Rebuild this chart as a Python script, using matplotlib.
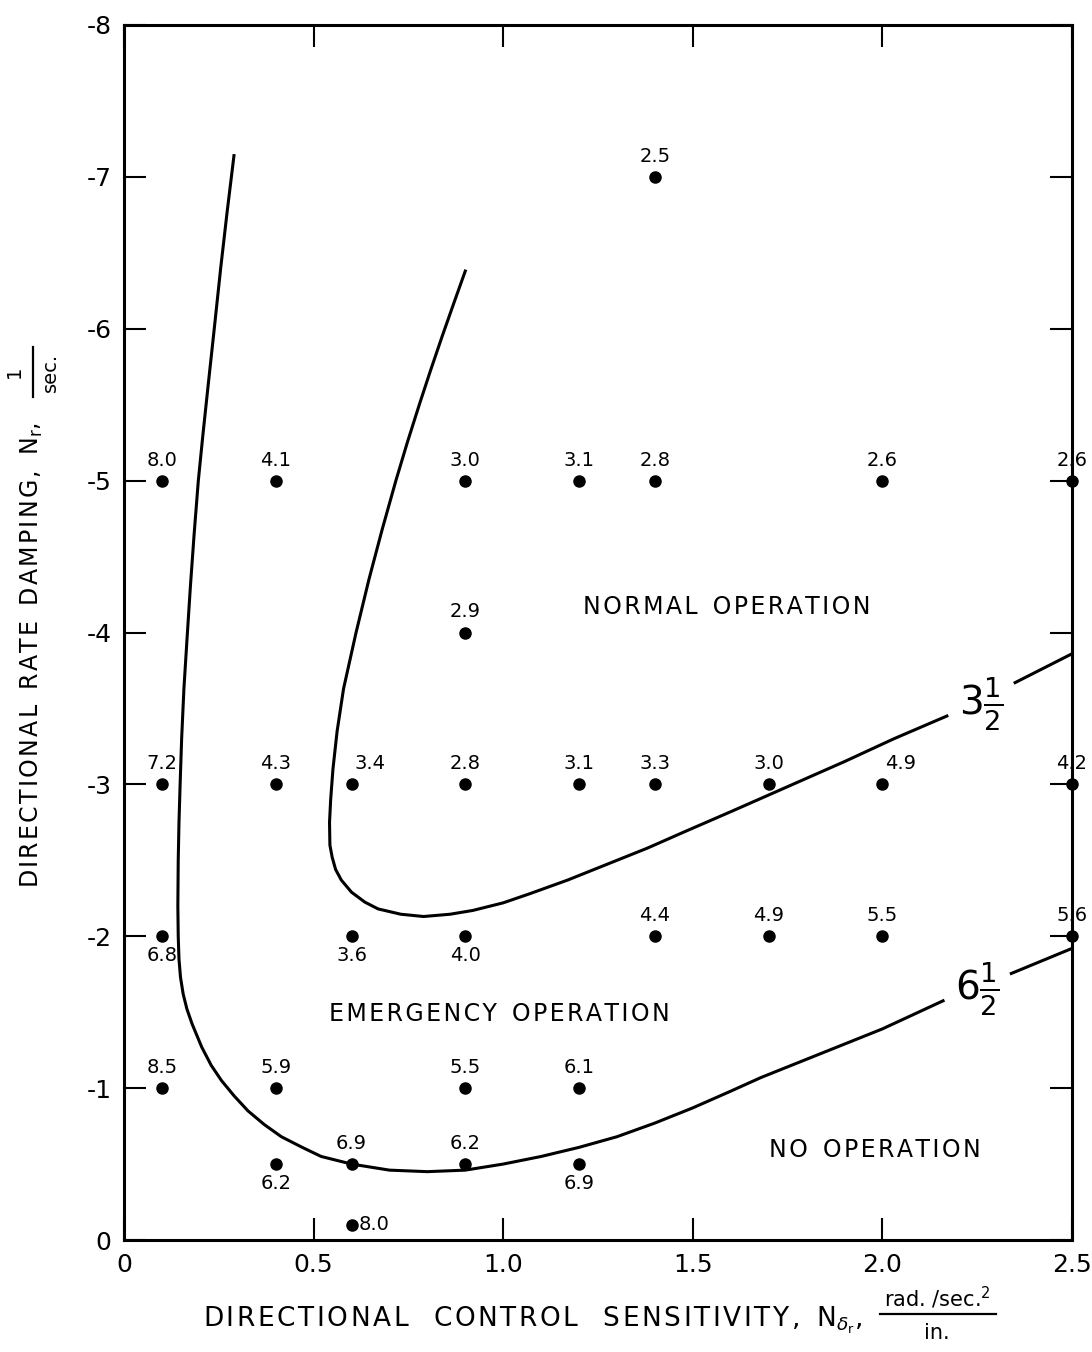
import matplotlib.pyplot as plt
from matplotlib.lines import Line2D

# flight test points: control sensitivity, rate damping and pilot rating
sens = [1.4,
        0.1, 0.4, 0.9, 1.2, 1.4, 2.0, 2.5,
        0.9,
        0.1, 0.4, 0.6, 0.9, 1.2, 1.4, 1.7, 2.0, 2.5,
        0.1, 0.6, 0.9, 1.4, 1.7, 2.0, 2.5,
        0.1, 0.4, 0.9, 1.2,
        0.4, 0.6, 0.9, 1.2,
        0.6]
damp = [-7,
        -5, -5, -5, -5, -5, -5, -5,
        -4,
        -3, -3, -3, -3, -3, -3, -3, -3, -3,
        -2, -2, -2, -2, -2, -2, -2,
        -1, -1, -1, -1,
        -0.5, -0.5, -0.5, -0.5,
        -0.1]
rating = ['2.5',
          '8.0', '4.1', '3.0', '3.1', '2.8', '2.6', '2.6',
          '2.9',
          '7.2', '4.3', '3.4', '2.8', '3.1', '3.3', '3.0', '4.9', '4.2',
          '6.8', '3.6', '4.0', '4.4', '4.9', '5.5', '5.6',
          '8.5', '5.9', '5.5', '6.1',
          '6.2', '6.9', '6.2', '6.9',
          '8.0']
# where the rating sits: a=above, ar=above right, b=below, r=right
where = ['a',
         'a', 'a', 'a', 'a', 'a', 'a', 'a',
         'a',
         'a', 'a', 'ar', 'a', 'a', 'a', 'a', 'ar', 'a',
         'b', 'b', 'b', 'a', 'a', 'a', 'a',
         'a', 'a', 'a', 'a',
         'b', 'a', 'a', 'b',
         'r']

# boundary for rating 3 1/2 (two pieces, broken for the label)
b35_x = [0.9, 0.87, 0.839, 0.809, 0.78, 0.747, 0.717, 0.681, 0.646, 0.612, 0.579,
         0.562, 0.551, 0.545, 0.542, 0.543, 0.549, 0.558, 0.573, 0.6, 0.635, 0.67,
         0.73, 0.79, 0.86, 0.92, 1.0, 1.07, 1.17, 1.27, 1.38, 1.48, 1.6, 1.7,
         1.8, 1.9, 2.03, 2.17]
b35_y = [-6.38, -6.17, -5.95, -5.73, -5.51, -5.25, -5.0, -4.68, -4.35, -4.0, -3.63,
         -3.35, -3.1, -2.9, -2.75, -2.6, -2.52, -2.44, -2.37, -2.29, -2.225, -2.18,
         -2.145, -2.13, -2.145, -2.17, -2.22, -2.28, -2.37, -2.47, -2.58, -2.69, -2.82, -2.93,
         -3.04, -3.15, -3.3, -3.45]
b35_x2 = [2.35, 2.5]
b35_y2 = [-3.67, -3.86]

# boundary for rating 6 1/2
b65_x = [0.29, 0.272, 0.255, 0.238, 0.222, 0.208, 0.196, 0.185, 0.175, 0.166, 0.158,
         0.152, 0.148, 0.145, 0.143, 0.142, 0.143, 0.145, 0.149, 0.156, 0.166, 0.18,
         0.205, 0.23, 0.257, 0.29, 0.327, 0.37, 0.415, 0.47, 0.52, 0.6, 0.7, 0.8,
         0.9, 1.0, 1.1, 1.2, 1.3, 1.4, 1.5, 1.6, 1.68, 1.76, 1.84, 2.0, 2.16]
b65_y = [-7.14, -6.77, -6.4, -6.0, -5.63, -5.3, -5.0, -4.65, -4.3, -3.95, -3.63,
         -3.3, -3.0, -2.75, -2.5, -2.2, -2.0, -1.85, -1.73, -1.62, -1.52, -1.42,
         -1.27, -1.15, -1.05, -0.95, -0.85, -0.76, -0.68, -0.61, -0.55, -0.5, -0.46, -0.45,
         -0.46, -0.5, -0.55, -0.61, -0.68, -0.77, -0.87, -0.98, -1.07, -1.15, -1.23, -1.39, -1.575]
b65_x2 = [2.34, 2.5]
b65_y2 = [-1.755, -1.92]

xticks = [0, 0.5, 1.0, 1.5, 2.0, 2.5]
xticklabels = ['0', '0.5', '1.0', '1.5', '2.0', '2.5']
yticks = [0, -1, -2, -3, -4, -5, -6, -7, -8]
yticklabels = ['0', '-1', '-2', '-3', '-4', '-5', '-6', '-7', '-8']


def spread(s):
    # wide lettering like the stencil text of the original
    return '\u200a'.join(s)


plt.rcParams['font.family'] = ['DejaVu Sans']
plt.rcParams['mathtext.fontset'] = 'dejavusans'

W, H = 1092, 1352
fig = plt.figure(figsize=(W/100, H/100), dpi=100)
ax = fig.add_axes([124/W, 1-1240/H, (1072-124)/W, (1240-25)/H])

ax.plot(b35_x, b35_y, color='black', lw=2.2, solid_joinstyle='round')
ax.plot(b35_x2, b35_y2, color='black', lw=2.2, clip_on=False)
ax.plot(b65_x, b65_y, color='black', lw=2.2, solid_joinstyle='round')
ax.plot(b65_x2, b65_y2, color='black', lw=2.2, clip_on=False)

ax.plot(sens, damp, 'o', color='black', ms=8, clip_on=False, zorder=5)

for x, y, r, w in zip(sens, damp, rating, where):
    if w == 'a':
        off, ha, va = (0, 8), 'center', 'bottom'
    elif w == 'ar':
        off, ha, va = (13, 8), 'center', 'bottom'
    elif w == 'b':
        off, ha, va = (0, -7), 'center', 'top'
    else:
        off, ha, va = (5, 0), 'left', 'center'
    ax.annotate(r, (x, y), xytext=off, textcoords='offset points',
                ha=ha, va=va, fontsize=14, annotation_clip=False)

# curve labels
ax.text(2.26, -3.53, r'$3\frac{1}{2}$', fontsize=28, ha='center', va='center')
ax.text(2.25, -1.65, r'$6\frac{1}{2}$', fontsize=28, ha='center', va='center')

# region labels
ax.text(1.59, -4.17, spread('NORMAL') + '  ' + spread('OPERATION'),
        fontsize=17, ha='center', va='center')
ax.text(0.99, -1.49, spread('EMERGENCY') + '  ' + spread('OPERATION'),
        fontsize=17, ha='center', va='center')
ax.text(1.98, -0.59, spread('NO') + '  ' + spread('OPERATION'),
        fontsize=17, ha='center', va='center')

ax.set_xlim(0, 2.5)
ax.set_ylim(0, -8)
ax.set_xticks(xticks)
ax.set_xticklabels(xticklabels)
ax.set_yticks(yticks)
ax.set_yticklabels(yticklabels)
ax.tick_params(direction='in', length=16, width=1.5, top=True, right=True,
               labelsize=18, pad=9)
for s in ax.spines.values():
    s.set_linewidth(2.2)

# x axis title with its unit fraction
xlab = ('   '.join(spread(w) for w in ['DIRECTIONAL', 'CONTROL', 'SENSITIVITY,'])
        + r'  $\mathrm{N}_{\delta_{\mathrm{r}}}$,')
fig.text(203/W, 1-1320/H, xlab, fontsize=19, ha='left', va='center')
fig.text(937/W, 1-1298/H, r'rad. /sec.$^2$', fontsize=15, ha='center', va='center')
fig.add_artist(Line2D([880/W, 996/W], [1-1314/H, 1-1314/H], color='black', lw=1.6))
fig.text(937/W, 1-1333/H, 'in.', fontsize=15, ha='center', va='center')

# y axis title with its unit fraction
ylab = ('  '.join(spread(w) for w in ['DIRECTIONAL', 'RATE', 'DAMPING,'])
        + r'  $\mathrm{N}_{\mathrm{r}}$,')
fig.text(32/W, 1-655/H, ylab, fontsize=17, rotation=90, ha='center', va='center')
fig.text(14/W, 1-372/H, '1', fontsize=14, rotation=90, ha='center', va='center')
fig.add_artist(Line2D([33/W, 33/W], [1-347/H, 1-397/H], color='black', lw=1.6))
fig.text(50/W, 1-372/H, 'sec.', fontsize=14, rotation=90, ha='center', va='center')

fig.savefig('out.png', dpi=100)
